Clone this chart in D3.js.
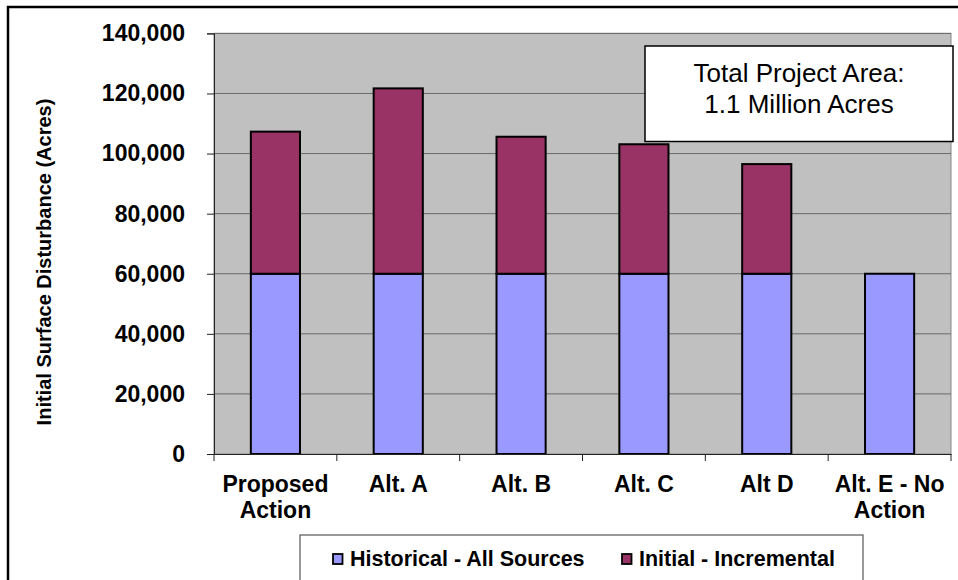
<!DOCTYPE html>
<html>
<head>
<meta charset="utf-8">
<script src="https://cdn.jsdelivr.net/npm/d3@7"></script>
<style>
  html, body { margin: 0; padding: 0; background: #fff; }
  svg { display: block; }
  text { font-family: "Liberation Sans", Arial, sans-serif; }
</style>
</head>
<body>
<svg id="chart" width="958" height="580"></svg>
<script>
const categories = ["Proposed\nAction", "Alt. A", "Alt. B", "Alt. C", "Alt D", "Alt. E - No\nAction"];
const historical = [60000, 60000, 60000, 60000, 60000, 60000];
const incremental = [47300, 61700, 45600, 43100, 36500, 0];
const seriesNames = ["Historical - All Sources", "Initial - Incremental"];
const seriesColors = ["#9999FF", "#993366"];
const yTicks = [0, 20000, 40000, 60000, 80000, 100000, 120000, 140000];
const yTitle = "Initial Surface Disturbance (Acres)";
const noteLines = ["Total Project Area:", "1.1 Million Acres"];

const svg = d3.select("#chart");
const plot = { left: 214, right: 951, top: 33.4, bottom: 454 };

// Outer chart border
svg.append("rect")
  .attr("x", 8).attr("y", 7).attr("width", 1000).attr("height", 1000)
  .attr("fill", "#fff").attr("stroke", "#000").attr("stroke-width", 2.5);

const x = d3.scaleBand().domain(categories)
  .range([plot.left, plot.right]).paddingInner(0.6).paddingOuter(0.3);
const y = d3.scaleLinear().domain([0, 140000]).range([plot.bottom, plot.top]);

// plot background
svg.append("rect")
  .attr("x", plot.left).attr("y", plot.top)
  .attr("width", plot.right - plot.left).attr("height", plot.bottom - plot.top)
  .attr("fill", "#C0C0C0").attr("stroke", "#888").attr("stroke-width", 1);

// gridlines
svg.append("g").selectAll("line").data(yTicks.filter(d => d > 0)).join("line")
  .attr("x1", plot.left).attr("x2", plot.right)
  .attr("y1", d => y(d)).attr("y2", d => y(d))
  .attr("stroke", "#6a6a6a").attr("stroke-width", 1);

// stacked bars
const rows = categories.map((c, i) => ({ cat: c, h: historical[i], inc: incremental[i] }));
const stack = d3.stack().keys(["h", "inc"])(rows);
stack.forEach((layer, li) => {
  svg.append("g").selectAll("rect").data(layer.filter(d => d[1] - d[0] > 0)).join("rect")
    .attr("x", d => x(d.data.cat))
    .attr("width", x.bandwidth())
    .attr("y", d => y(d[1]))
    .attr("height", d => y(d[0]) - y(d[1]))
    .attr("fill", seriesColors[li])
    .attr("stroke", "#000").attr("stroke-width", 2);
});

// Y axis
const yAxis = svg.append("g").attr("transform", `translate(${plot.left},0)`)
  .call(d3.axisLeft(y).tickValues(yTicks).tickSize(7).tickPadding(22)
    .tickFormat(d3.format(",")));
yAxis.select(".domain").attr("stroke", "#222").attr("stroke-width", 1);
yAxis.selectAll(".tick line").attr("stroke", "#222");
yAxis.selectAll("text").attr("font-size", 23).attr("font-weight", "bold")
  .attr("fill", "#000").attr("font-family", "Liberation Sans, Arial, sans-serif");

// X axis
const xAxis = svg.append("g").attr("transform", `translate(0,${plot.bottom})`)
  .call(d3.axisBottom(x).tickSize(0).tickFormat(""));
xAxis.select(".domain").attr("stroke", "#222").attr("stroke-width", 1);
// tick marks at category boundaries
const step = x.step();
const boundaries = categories.map(c => x(c) - x.paddingOuter() * step * 0 - (step - x.bandwidth()) / 2);
boundaries.push(plot.right);
svg.append("g").selectAll("line").data(boundaries).join("line")
  .attr("x1", d => d).attr("x2", d => d)
  .attr("y1", plot.bottom).attr("y2", plot.bottom + 7)
  .attr("stroke", "#222").attr("stroke-width", 1);

// category labels
const catG = svg.append("g");
categories.forEach(c => {
  const t = catG.append("text")
    .attr("x", x(c) + x.bandwidth() / 2).attr("y", 492)
    .attr("text-anchor", "middle").attr("font-size", 23).attr("font-weight", "bold")
    .attr("fill", "#000");
  c.split("\n").forEach((line, i) => {
    t.append("tspan").attr("x", x(c) + x.bandwidth() / 2).attr("dy", i === 0 ? 0 : 25.5).text(line);
  });
});

// Y title
svg.append("text")
  .attr("transform", "translate(51,262) rotate(-90)")
  .attr("text-anchor", "middle").attr("font-size", 20).attr("font-weight", "bold")
  .attr("fill", "#000").text(yTitle);

// note box
svg.append("rect")
  .attr("x", 645).attr("y", 46).attr("width", 308).attr("height", 95.5)
  .attr("fill", "#fff").attr("stroke", "#000").attr("stroke-width", 1.5);
svg.append("g").selectAll("text").data(noteLines).join("text")
  .attr("x", 799).attr("y", (d, i) => 82 + i * 31)
  .attr("text-anchor", "middle").attr("font-size", 26).attr("fill", "#000")
  .text(d => d);

// legend
svg.append("rect")
  .attr("x", 300).attr("y", 535).attr("width", 563).attr("height", 100)
  .attr("fill", "#fff").attr("stroke", "#555").attr("stroke-width", 1.2);
const legendX = [333, 622];
seriesNames.forEach((name, i) => {
  svg.append("rect")
    .attr("x", legendX[i]).attr("y", 554).attr("width", 9.5).attr("height", 10)
    .attr("fill", seriesColors[i]).attr("stroke", "#000").attr("stroke-width", 1.8);
  svg.append("text")
    .attr("x", legendX[i] + 17).attr("y", 566)
    .attr("font-size", 21.5).attr("font-weight", "bold").attr("fill", "#000")
    .text(name);
});
</script>
</body>
</html>
